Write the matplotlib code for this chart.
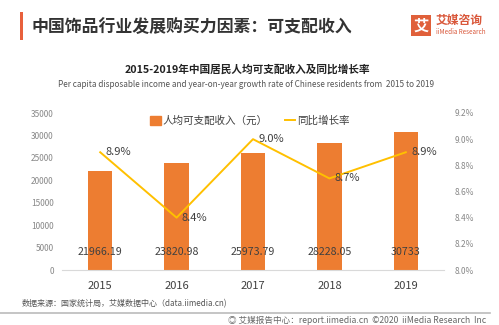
import numpy as np
import matplotlib
matplotlib.use("Agg")
import matplotlib.pyplot as plt
from matplotlib.patches import Rectangle
from matplotlib.lines import Line2D

plt.rcParams['font.family'] = ['Noto Sans CJK SC', 'DejaVu Sans']

# data
years = ['2015', '2016', '2017', '2018', '2019']
income = [21966.19, 23820.98, 25973.79, 28228.05, 30733]
income_labels = ['21966.19', '23820.98', '25973.79', '28228.05', '30733']
growth = [8.9, 8.4, 9.0, 8.7, 8.9]
left_ticks = [0, 5000, 10000, 15000, 20000, 25000, 30000, 35000]
right_ticks = [8.0, 8.2, 8.4, 8.6, 8.8, 9.0, 9.2]

BAR = '#ED7D31'
LINE = '#FFC000'
W, H = 499, 325

fig = plt.figure(figsize=(W / 100, H / 100), dpi=100)
fig.patch.set_facecolor('white')

def px(x, y):
    return x / W, 1 - y / H

# header
fig.patches.append(Rectangle(px(20, 40), 3 / W, 28 / H, transform=fig.transFigure,
                             color='#E8603C', lw=0))
fig.text(*px(32, 27), '中国饰品行业发展购买力因素：可支配收入', fontsize=12.2,
         fontweight='bold', color='#333333', va='center', ha='left')

# logo
fig.patches.append(Rectangle(px(411, 36), 20 / W, 21 / H, transform=fig.transFigure,
                             color='#E0603A', lw=0))
fig.text(*px(421, 25.5), '艾', fontsize=11, fontweight='bold', color='white',
         ha='center', va='center')
fig.text(*px(436, 20), '艾媒咨询', fontsize=8.5, fontweight='bold', color='#D9573A',
         ha='left', va='center')
fig.text(*px(436, 31.5), 'iiMedia Research', fontsize=4.5, color='#D9573A',
         ha='left', va='center')

# chart titles
fig.text(*px(247, 69), '2015-2019年中国居民人均可支配收入及同比增长率', fontsize=7.7,
         fontweight='bold', color='#222222', ha='center', va='center')
fig.text(*px(246, 84), 'Per capita disposable income and year-on-year growth rate of Chinese residents from  2015 to 2019',
         fontsize=5.9, color='#555555', ha='center', va='center')

# axes
ax = fig.add_axes([62 / W, (H - 270) / H, 382 / W, 157 / H])
x = np.arange(len(years))
ax.bar(x, income, width=0.32, color=BAR, zorder=2)
for xi, lab in zip(x, income_labels):
    ax.text(xi, 4000, lab, ha='center', va='center', fontsize=7.7, color='#404040', zorder=3)
ax.set_xlim(-0.5, 4.5)
ax.set_ylim(0, 35000)
ax.set_yticks(left_ticks)
ax.set_yticklabels([str(t) for t in left_ticks])
ax.set_xticks(x)
ax.set_xticklabels(years)
ax.tick_params(axis='y', length=0, labelsize=6, labelcolor='#888888', pad=6)
ax.tick_params(axis='x', length=0, labelsize=8, labelcolor='#404040', pad=8)
for s in ['top', 'right', 'left']:
    ax.spines[s].set_visible(False)
ax.spines['bottom'].set_color('#D9D9D9')
ax.spines['bottom'].set_linewidth(0.8)

ax2 = ax.twinx()
ax2.plot(x, growth, color=LINE, lw=1.4, zorder=4)
for xi, g in zip(x, growth):
    ax2.text(xi + 0.07, g, f'{g:.1f}%', ha='left', va='center', fontsize=8,
             color='#404040', zorder=5)
ax2.set_ylim(8.0, 9.2)
ax2.set_yticks(right_ticks)
ax2.set_yticklabels([f'{t:.1f}%' for t in right_ticks])
ax2.tick_params(axis='y', length=0, labelsize=6, labelcolor='#888888', pad=8)
for s in ['top', 'right', 'left', 'bottom']:
    ax2.spines[s].set_visible(False)

handles = [Rectangle((0, 0), 1, 1, color=BAR), Line2D([0], [0], color=LINE, lw=1.4)]
fig.legend(handles, ['人均可支配收入（元）', '同比增长率'], loc='center',
           bbox_to_anchor=px(250, 121), ncol=2, frameon=False, fontsize=7.6,
           handlelength=1.0, handleheight=0.8, handletextpad=0.2, columnspacing=1.6,
           labelcolor='#404040')

# footer
fig.text(*px(22, 304), '数据来源：国家统计局，艾媒数据中心（data.iimedia.cn)', fontsize=5.8,
         color='#555555', ha='left', va='center')
fig.add_artist(Line2D([0, 490 / W], [1 - 313 / H] * 2, transform=fig.transFigure,
                      color='#BBBBBB', lw=1.2))
fig.text(*px(486, 320), '◎ 艾媒报告中心：report.iimedia.cn  ©2020  iiMedia Research  Inc',
         fontsize=6.2, color='#666666', ha='right', va='center')

fig.savefig('out.png', dpi=100)
